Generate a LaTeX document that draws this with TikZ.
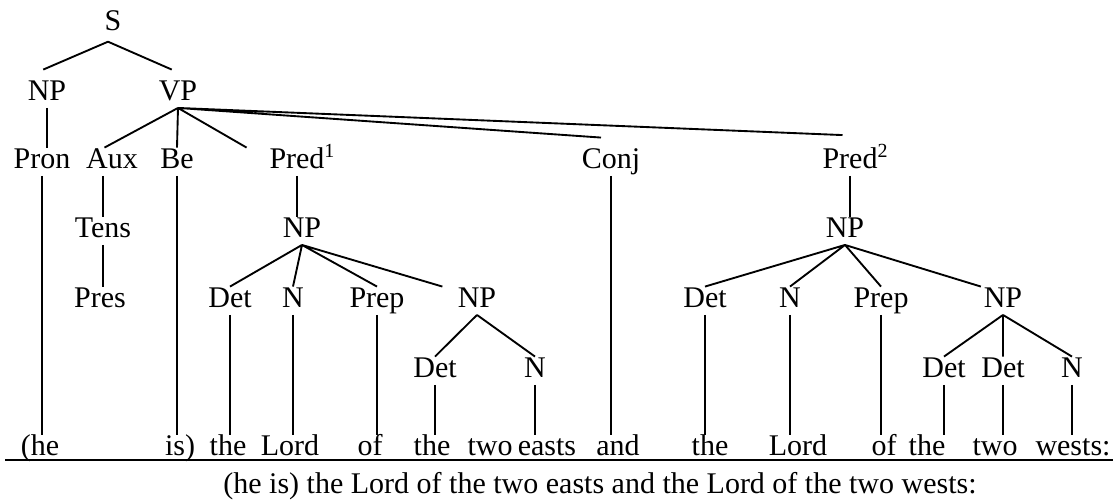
\documentclass[tikz,border=0pt]{standalone}
\usepackage{fontspec}
\setmainfont{Liberation Serif}
\usepackage{tikz}

\begin{document}
\begin{tikzpicture}[x=0.4pt,y=-0.4pt,line width=0.75pt,
    every node/.style={anchor=base,inner sep=0.8pt,text height=0.7em,text depth=0.2em,
      font=\fontsize{12}{14}\selectfont}]
      \useasboundingbox (0,0) rectangle (1120,502);
      % categories, row by row
      \node(s) at (113,30){S};
      \node(np) at (47,100){NP};
      \node(vp) at (178,100){VP};
      \node(pron) at (42,168){Pron};
      \node(aux) at (112,168){Aux};
      \node(be) at (177,168){Be};
      \node(predA) at (297,168){Pred\rlap{\textsuperscript{1}}};
      \node(conj) at (611,168){Conj};
      \node(predB) at (850,168){Pred\rlap{\textsuperscript{2}}};
      \node(tens) at (103,237){Tens};
      \node(npA) at (302,237){NP};
      \node(npB) at (845,237){NP};
      \node(pres) at (100,307){Pres};
      \node(detA) at (230,307){Det};
      \node(nA) at (293,307){N};
      \node(prepA) at (377,307){Prep};
      \node(npC) at (477,307){NP};
      \node(detB) at (705,307){Det};
      \node(nB) at (790,307){N};
      \node(prepB) at (881,307){Prep};
      \node(npD) at (1003,307){NP};
      \node(detC) at (435,377){Det};
      \node(nC) at (535,377){N};
      \node(detD) at (944,377){Det};
      \node(detE) at (1003,377){Det};
      \node(nD) at (1072,377){N};
      % the words
      \node(he) at (40,455){(he};
      \node(is) at (180,455){is)};
      \node(theA) at (228,455){the};
      \node(lordA) at (290,455){Lord};
      \node(ofA) at (370,455){of};
      \node(theB) at (432,455){the};
      \node(twoA) at (490,455){two};
      \node(easts) at (547,455){easts};
      \node(and) at (618,455){and};
      \node(theC) at (710,455){the};
      \node(lordB) at (798,455){Lord};
      \node(ofB) at (884,455){of};
      \node(theD) at (927,455){the};
      \node(twoB) at (995,455){two};
      \node(wests) at (1073,455){wests:};
      \coordinate(ruleL) at (5,460);
      \coordinate(ruleR) at (1113,460);
      \draw(ruleL)--(ruleR);
      \node(gloss) at (600,493){(he is) the Lord of the two easts and the Lord of the two wests:};
      % branches
      \draw([xshift=-2pt,yshift=-1.5pt]s.south)--([xshift=-1.5pt,yshift=4pt]np.north)
        ([xshift=-2pt,yshift=-1.5pt]s.south)--([xshift=-2.5pt,yshift=4pt]vp.north);
      \draw(np.south)--(np.south|-pron.north);
      \draw(vp.south)--([xshift=-3pt]aux.north) (vp.south)--(be.north)
        (vp.south)--([xshift=-8pt]predA.north west)
        (vp.south)--([xshift=-4pt,yshift=4pt]conj.north)
        (vp.south)--([xshift=-3pt,yshift=5pt]predB.north);
      \draw(pron.south)--(pron.south|-he.north);
      \draw(aux.south-|tens)--(tens.north);
      \draw(tens.south)--(tens.south|-pres.north);
      \draw(be.south)--(be.south|-is.north);
      \draw(predA.south)--(predA.south|-npA.north);
      \draw(conj.south)--(conj.south|-and.north);
      \draw(predB.south)--(predB.south|-npB.north);
      \draw(npA.south)--(detA.north) (npA.south)--(nA.north) (npA.south)--(prepA.north)
        (npA.south)--([xshift=-5pt]npC.north west);
      \draw(npB.south)--(detB.north) (npB.south)--(nB.north) (npB.south)--(prepB.north)
        (npB.south)--(npD.north west);
      \draw(detA.south)--(detA.south|-theA.north);
      \draw(nA.south)--(nA.south|-lordA.north);
      \draw(prepA.south)--(prepA.south|-ofA.north);
      \draw(npC.south)--(detC.north) (npC.south)--(nC.north);
      \draw(detC.south)--(detC.south|-theB.north);
      \draw(nC.south)--(nC.south|-easts.north);
      \draw(detB.south)--(detB.south|-theC.north);
      \draw(nB.south)--(nB.south|-lordB.north);
      \draw(prepB.south)--(prepB.south|-ofB.north);
      \draw(npD.south)--(detD.north) (npD.south)--(detE.north) (npD.south)--(nD.north);
      \draw(detD.south)--(detD.south|-theD.north);
      \draw(detE.south)--(detE.south|-twoB.north);
      \draw(nD.south)--(nD.south|-wests.north);
    \end{tikzpicture}
\end{document}
